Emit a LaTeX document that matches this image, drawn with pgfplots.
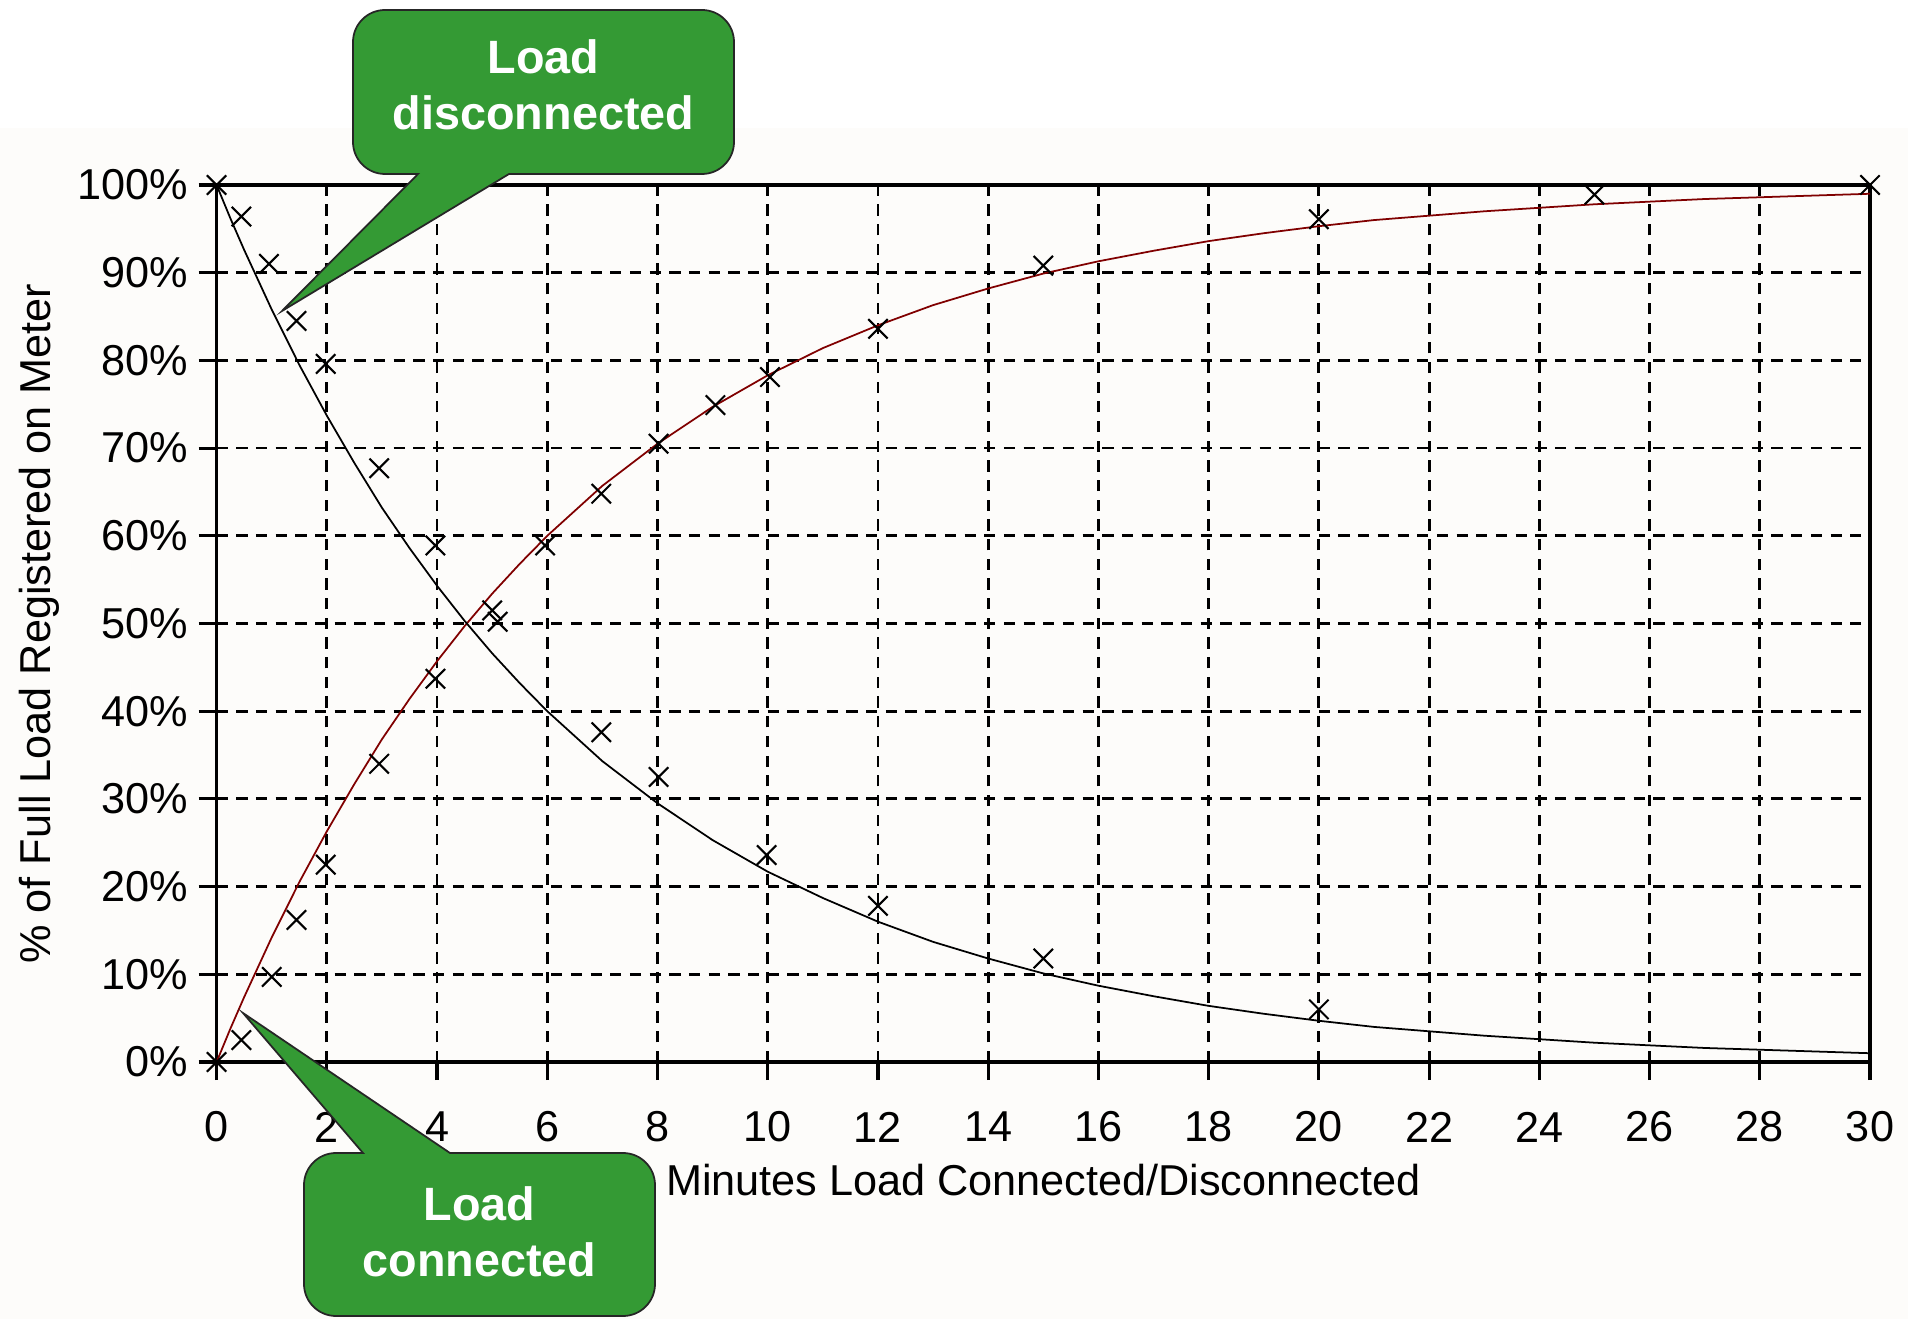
\documentclass[border=0pt]{standalone}
\usepackage{pgfplots}
\pgfplotsset{compat=1.18}
\usepackage{fontspec}
\setmainfont{Liberation Sans}
\definecolor{calloutgreen}{RGB}{52,154,52}
\definecolor{curvered}{RGB}{128,0,0}
\definecolor{bgoff}{RGB}{253,252,250}
\newcommand\lab{\fontsize{12.3pt}{14pt}\selectfont}
\begin{document}
\begin{tikzpicture}[x=1mm,y=1mm]
\useasboundingbox (0,0) rectangle (190.8,131.9);
\fill[white] (0,0) rectangle (190.8,131.9);
\fill[bgoff] (0,0) rectangle (190.8,119.1);
\begin{axis}[
  at={(21.66mm,25.7mm)}, anchor=south west,
  scale only axis, width=165.34mm, height=87.7mm,
  xmin=0, xmax=30, ymin=0, ymax=100,
  xtick={0,2,...,30}, ytick={0,10,...,100},
  yticklabel={\pgfmathprintnumber{\tick}\%},
  /pgf/number format/assume math mode=true,
  tick label style={font=\lab},
  label style={font=\lab},
  tick align=outside, major tick length=1.8mm,
  tick style={black, line width=0.9pt},
  xtick pos=bottom, ytick pos=left,
  axis line style={line width=1pt},
  grid=major,
  major grid style={black, line width=0.8pt, dash pattern=on 3.2pt off 2.4pt},
  xticklabel style={anchor=center, yshift=-4.7mm},
  yticklabel style={anchor=east, inner sep=0pt, xshift=-1mm},
  xlabel={Minutes Load Connected/Disconnected},
  ylabel={\% of Full Load Registered on Meter},
  xlabel style={at={(axis description cs:0.5,-0.1345)}, anchor=center},
  ylabel style={at={(axis description cs:-0.107,0.5)}, anchor=center},
  axis background/.style={fill=bgoff},
]
% Load connected curve
\addplot[curvered, line width=0.5pt, mark=none] coordinates {
(0,0) (0.25,3.8) (0.5,7.4) (0.75,10.8) (1,14.2) (1.5,20.5) (2,26.3) (2.5,31.7)
(3,36.8) (3.5,41.4) (4,45.7) (4.5,49.7) (5,53.4) (5.5,56.8) (6,60.0) (7,65.7)
(8,70.5) (9,74.7) (10,78.3) (11,81.4) (12,84.0) (13,86.3) (14,88.2) (15,89.9)
(16,91.3) (17,92.5) (18,93.6) (19,94.5) (20,95.3) (21,96.0) (22,96.5) (23,97.0)
(24,97.4) (25,97.8) (26,98.1) (27,98.4) (28,98.6) (29,98.8) (30,99.0)};
% Load disconnected curve
\addplot[black, line width=0.5pt, mark=none] coordinates {
(0,100) (0.25,96.2) (0.5,92.6) (0.75,89.2) (1,85.8) (1.5,79.5) (2,73.7) (2.5,68.3)
(3,63.2) (3.5,58.6) (4,54.3) (4.5,50.3) (5,46.6) (5.5,43.2) (6,40.0) (7,34.3)
(8,29.5) (9,25.3) (10,21.7) (11,18.7) (12,16.0) (13,13.7) (14,11.8) (15,10.1)
(16,8.7) (17,7.5) (18,6.4) (19,5.5) (20,4.7) (21,4.0) (22,3.5) (23,3.0)
(24,2.6) (25,2.2) (26,1.9) (27,1.6) (28,1.4) (29,1.2) (30,1.0)};
% measured points, connected
\addplot[only marks, mark=x, mark size=3.9pt, black, mark options={line width=0.6pt}] coordinates {
(0,0) (0.45,2.5) (1.0,9.7) (1.45,16.2) (1.98,22.5) (2.95,34.0) (3.97,43.7)
(5.0,51.5) (5.96,58.9) (6.98,64.8) (8.02,70.5) (9.05,74.9) (10.04,78.1)
(12.0,83.6) (15.0,90.8) (20.0,96.1) (25.0,98.9) (30,100)};
% measured points, disconnected
\addplot[only marks, mark=x, mark size=3.9pt, black, mark options={line width=0.6pt}] coordinates {
(0,100) (0.45,96.4) (0.95,91.0) (1.45,84.5) (1.98,79.6) (2.95,67.7) (3.97,58.9)
(5.1,50.2) (6.98,37.6) (8.02,32.5) (9.98,23.6) (12.0,17.8) (15.0,11.8) (20.0,6.0)};
\end{axis}
% callout: Load disconnected
\draw[fill=calloutgreen, draw=black!85, line width=0.5pt]
  (41.8,114.5) -- (28.2,100.8) -- (50.9,114.5)
  [rounded corners=3.2mm] -- (73.4,114.5) -- (73.4,130.9) -- (35.3,130.9) -- (35.3,114.5)
  [sharp corners] -- cycle;
\node[text=white, font=\fontsize{13.3pt}{15.9pt}\selectfont\bfseries, align=center]
  at (54.35,123.4) {Load\\disconnected};
% callout: Load connected
\draw[fill=calloutgreen, draw=black!85, line width=0.5pt]
  (45.0,16.6) -- (24.3,30.6) -- (36.3,16.6)
  [rounded corners=3.2mm] -- (30.4,16.6) -- (30.4,0.3) -- (65.5,0.3) -- (65.5,16.6)
  [sharp corners] -- cycle;
\node[text=white, font=\fontsize{13.3pt}{15.9pt}\selectfont\bfseries, align=center]
  at (47.95,8.7) {Load\\connected};
\end{tikzpicture}
\end{document}
